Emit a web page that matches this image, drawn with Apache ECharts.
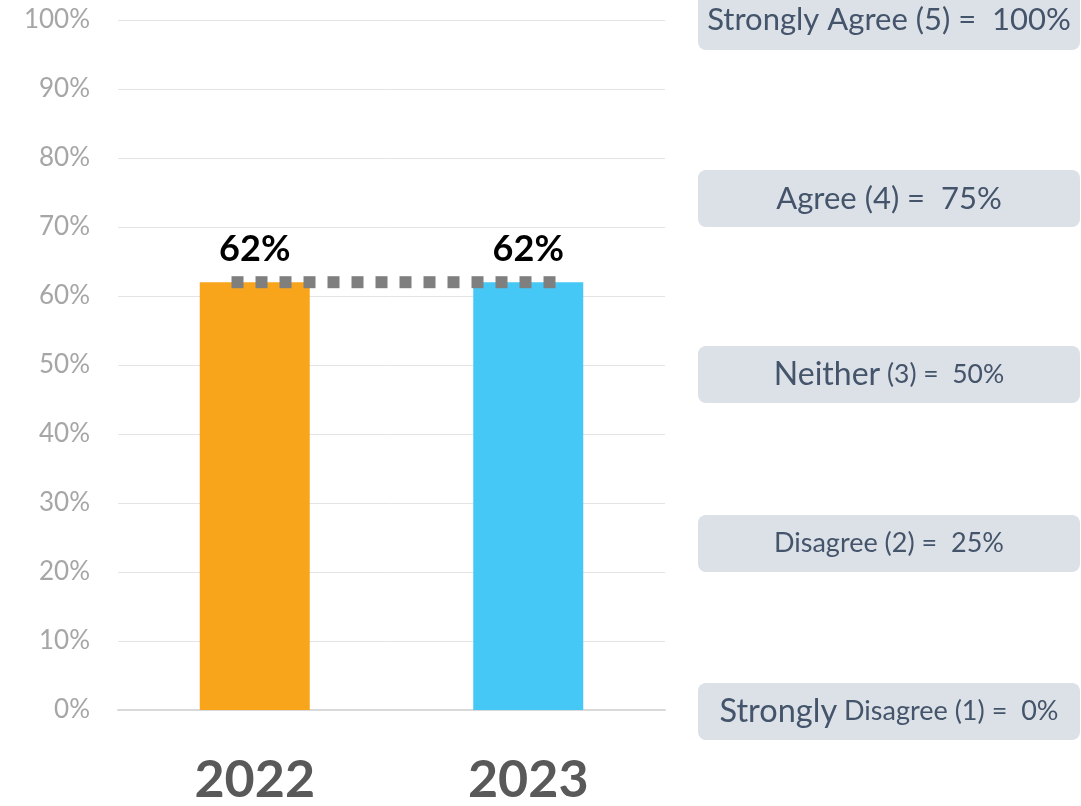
<!DOCTYPE html>
<html>
<head>
<meta charset="utf-8">
<script src="https://cdn.jsdelivr.net/npm/echarts@6/dist/echarts.min.js"></script>
<style>
html,body{margin:0;padding:0;background:#fff;}
#chart{width:1081px;height:806px;}
</style>
</head>
<body>
<div id="chart"></div>
<script>
// ---- data ----
const categories = ['2022', '2023'];
const values = [62, 62];
const barColors = ['#F8A51C', '#45C8F5'];
const yTicks = [0, 10, 20, 30, 40, 50, 60, 70, 80, 90, 100];
const scaleLabels = [
  { big: 'Strongly Agree (5) =  100%', small: '' },
  { big: 'Agree (4) =  75%', small: '' },
  { big: 'Neither', small: ' (3) =  50%' },
  { big: '', small: 'Disagree (2) =  25%' },
  { big: 'Strongly', small: ' Disagree (1) =  0%' }
];

const chart = echarts.init(document.getElementById('chart'), null, { renderer: 'canvas' });

const boxFill = '#DCE0E7';
const boxText = '#44546A';
const boxFont = 'Lato';
// box layout (annotation panel on the right)
const boxes = [
  { y: -10, h: 60, bigSize: 31, smallSize: 31 },
  { y: 170, h: 57, bigSize: 31, smallSize: 31 },
  { y: 346, h: 57, bigSize: 32, smallSize: 26.5 },
  { y: 515, h: 57, bigSize: 27, smallSize: 27 },
  { y: 683, h: 57, bigSize: 32.5, smallSize: 27 }
];

const graphics = boxes.map((b, i) => ({
  type: 'group',
  left: 698,
  top: b.y,
  children: [
    { type: 'rect', shape: { x: 0, y: 0, width: 382, height: b.h, r: 8 }, style: { fill: boxFill } },
    {
      type: 'text',
      x: 191, y: b.h / 2,
      style: {
        text: (scaleLabels[i].big ? '{b|' + scaleLabels[i].big + '}' : '') + (scaleLabels[i].small ? '{s|' + scaleLabels[i].small + '}' : ''),
        align: 'center', verticalAlign: 'middle',
        rich: {
          b: { fontSize: b.bigSize, fontFamily: boxFont, fill: boxText, color: boxText },
          s: { fontSize: b.smallSize, fontFamily: boxFont, fill: boxText, color: boxText }
        }
      }
    }
  ]
}));

const option = {
  animation: false,
  backgroundColor: '#ffffff',
  grid: { left: 118, right: 416, top: 20, bottom: 93, containLabel: false },
  xAxis: [
    {
      type: 'category',
      data: categories,
      axisTick: { show: false },
      axisLine: { lineStyle: { color: '#D9D9D9', width: 2 } },
      axisLabel: { color: '#595959', fontSize: 52, fontWeight: 'bold', fontFamily: 'Lato', margin: 44 }
    },
    { type: 'value', min: 0, max: 2, show: false }
  ],
  yAxis: {
    type: 'value',
    min: yTicks[0], max: yTicks[yTicks.length - 1], interval: 10,
    axisLine: { show: false },
    axisTick: { show: false },
    splitLine: { lineStyle: { color: '#E4E4E4', width: 1 } },
    axisLabel: { formatter: '{value}%', color: '#A6A6A6', fontSize: 26, fontFamily: 'Lato', margin: 28 }
  },
  series: [
    {
      type: 'bar',
      data: values.map((v, i) => ({ value: v, itemStyle: { color: barColors[i] } })),
      barWidth: 110,
      label: {
        show: true, position: 'top', distance: 15,
        formatter: '{c}%', color: '#000', fontSize: 36, fontWeight: 'bold', fontFamily: 'Lato'
      },
      z: 2
    },
    {
      type: 'line',
      xAxisIndex: 1,
      data: [[0.415, values[0]], [1.6, values[1]]],
      symbol: 'none',
      lineStyle: { color: '#7F7F7F', width: 12, type: [12, 12], cap: 'butt' },
      z: 5,
      silent: true
    }
  ],
  graphic: graphics
};
chart.setOption(option);
</script>
</body>
</html>
